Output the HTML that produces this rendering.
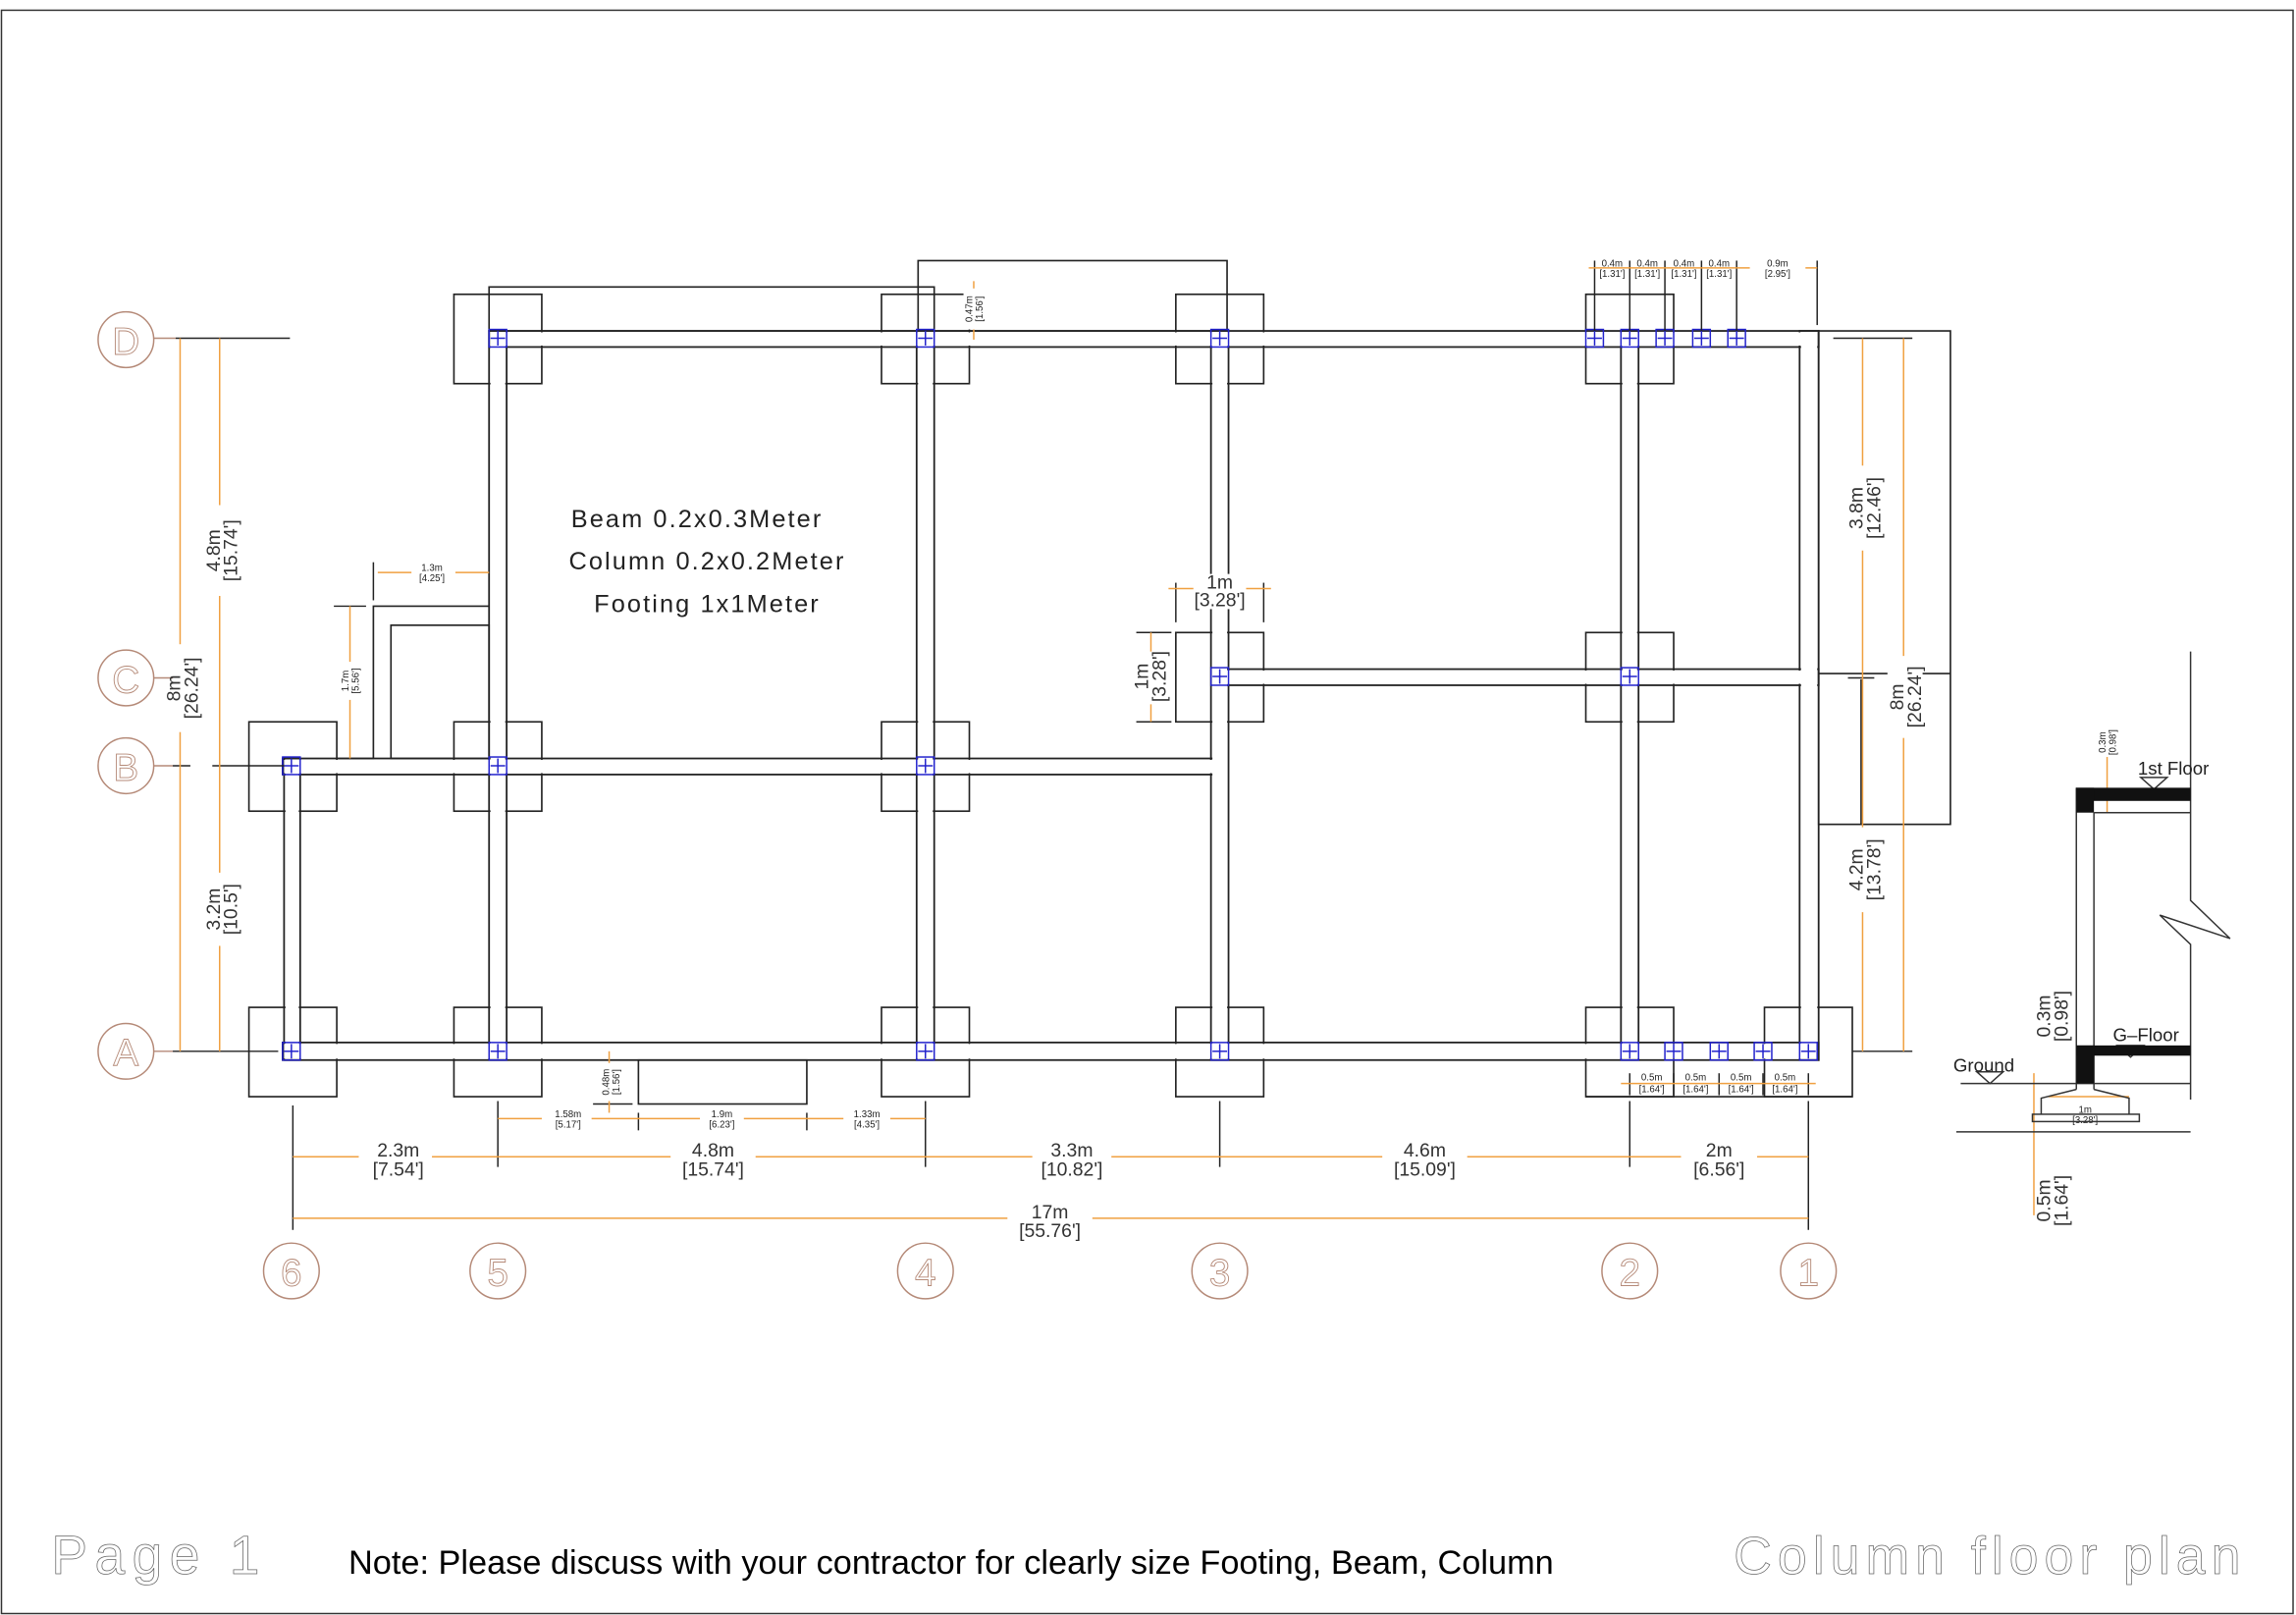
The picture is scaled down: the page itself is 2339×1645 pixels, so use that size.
<!DOCTYPE html>
<html><head><meta charset="utf-8"><style>
html,body{margin:0;padding:0;background:#fff;}
svg{display:block;}
text{font-family:"Liberation Sans",sans-serif;}
</style></head><body>
<svg width="2339" height="1645" viewBox="0 0 1568 1103" preserveAspectRatio="none" xmlns="http://www.w3.org/2000/svg">
<defs>
<g id="c"><rect x="-6" y="-6" width="12" height="12"/><line x1="-5" y1="0" x2="5" y2="0"/><line x1="0" y1="-5" x2="0" y2="5"/></g>
</defs>
<rect x="0" y="0" width="1568" height="1103" fill="#fff"/>
<rect x="1" y="7" width="1565" height="1095" fill="none" stroke="#333" stroke-width="1"/>

<g fill="none" stroke="#222" stroke-width="1.1">
<rect x="310" y="201" width="60" height="61"/>
<rect x="602" y="201" width="60" height="61"/>
<rect x="803" y="201" width="60" height="61"/>
<rect x="1083" y="201" width="60" height="61"/>
<rect x="803" y="432" width="60" height="61"/>
<rect x="1083" y="432" width="60" height="61"/>
<rect x="170" y="493" width="60" height="61"/>
<rect x="310" y="493" width="60" height="61"/>
<rect x="602" y="493" width="60" height="61"/>
<rect x="170" y="688" width="60" height="61"/>
<rect x="310" y="688" width="60" height="61"/>
<rect x="602" y="688" width="60" height="61"/>
<rect x="803" y="688" width="60" height="61"/>
<rect x="1083" y="688" width="60" height="61"/>
<rect x="1205" y="688" width="60" height="61"/>
<line x1="1083" y1="749" x2="1265" y2="749"/>
<rect x="334" y="196" width="304" height="30"/>
<rect x="627" y="178" width="211" height="48"/>
<rect x="1242" y="226" width="90" height="337"/>
<line x1="1242" y1="460" x2="1332" y2="460"/>
<line x1="1271" y1="464" x2="1271" y2="563"/>
<rect x="436" y="724" width="115" height="30"/>
<polyline points="230,518 255,518 255,414 334,414"/>
<rect x="267" y="427" width="67" height="91"/>
</g>

<g fill="none" stroke="#222" stroke-width="1.2">
<rect x="334" y="226" width="908" height="11"/>
<rect x="193" y="712" width="1049" height="12"/>
<rect x="193" y="518" width="640" height="11"/>
<rect x="833" y="457" width="409" height="11"/>
<rect x="194" y="518" width="11" height="206"/>
<rect x="334" y="226" width="12" height="498"/>
<rect x="626" y="226" width="12" height="498"/>
<rect x="827" y="226" width="12" height="498"/>
<rect x="1107" y="226" width="12" height="498"/>
<rect x="1229" y="226" width="13" height="498"/>
</g>
<g fill="#fff" stroke="none">
<rect x="335" y="227" width="906" height="9"/>
<rect x="194" y="713" width="1047" height="10"/>
<rect x="194" y="519" width="638" height="9"/>
<rect x="834" y="458" width="407" height="9"/>
<rect x="195" y="519" width="9" height="204"/>
<rect x="335" y="227" width="10" height="496"/>
<rect x="627" y="227" width="10" height="496"/>
<rect x="828" y="227" width="10" height="496"/>
<rect x="1108" y="227" width="10" height="496"/>
<rect x="1230" y="227" width="11" height="496"/>
</g>

<g fill="none" stroke="#2222cc" stroke-width="1">
<use href="#c" x="340" y="231"/><use href="#c" x="632" y="231"/><use href="#c" x="833" y="231"/>
<use href="#c" x="1089" y="231"/><use href="#c" x="1113" y="231"/><use href="#c" x="1137" y="231"/><use href="#c" x="1162" y="231"/><use href="#c" x="1186" y="231"/>
<use href="#c" x="833" y="462"/><use href="#c" x="1113" y="462"/>
<use href="#c" x="199" y="523"/><use href="#c" x="340" y="523"/><use href="#c" x="632" y="523"/>
<use href="#c" x="199" y="718"/><use href="#c" x="340" y="718"/><use href="#c" x="632" y="718"/><use href="#c" x="833" y="718"/>
<use href="#c" x="1113" y="718"/><use href="#c" x="1143" y="718"/><use href="#c" x="1174" y="718"/><use href="#c" x="1204" y="718"/><use href="#c" x="1235" y="718"/>
</g>

<g stroke="#222" stroke-width="1">
<line x1="120" y1="231" x2="198" y2="231"/>
<line x1="145" y1="523" x2="194" y2="523"/>
<line x1="118" y1="718" x2="190" y2="718"/>
<line x1="118" y1="523" x2="130" y2="523"/>
<line x1="200" y1="755" x2="200" y2="840"/>
<line x1="340" y1="752" x2="340" y2="797"/>
<line x1="632" y1="752" x2="632" y2="797"/>
<line x1="833" y1="752" x2="833" y2="797"/>
<line x1="1113" y1="752" x2="1113" y2="797"/>
<line x1="1235" y1="752" x2="1235" y2="840"/>
<line x1="1265" y1="718" x2="1306" y2="718"/>
<line x1="1252" y1="231" x2="1306" y2="231"/>
<line x1="1262" y1="463" x2="1280" y2="463"/>
<line x1="1089" y1="178" x2="1089" y2="226"/><line x1="1113" y1="178" x2="1113" y2="226"/><line x1="1137" y1="178" x2="1137" y2="226"/><line x1="1162" y1="178" x2="1162" y2="226"/><line x1="1186" y1="178" x2="1186" y2="226"/><line x1="1241" y1="178" x2="1241" y2="222"/>
<line x1="1113" y1="733" x2="1113" y2="748"/><line x1="1143" y1="733" x2="1143" y2="748"/><line x1="1174" y1="733" x2="1174" y2="748"/><line x1="1204" y1="733" x2="1204" y2="748"/><line x1="1235" y1="733" x2="1235" y2="748"/>
<line x1="803" y1="398" x2="803" y2="425"/><line x1="863" y1="398" x2="863" y2="425"/>
<line x1="776" y1="432" x2="800" y2="432"/><line x1="776" y1="493" x2="800" y2="493"/>
<line x1="436" y1="760" x2="436" y2="772"/><line x1="551" y1="760" x2="551" y2="772"/>
<line x1="405" y1="754" x2="432" y2="754"/>
<line x1="228" y1="414" x2="250" y2="414"/>
<line x1="255" y1="384" x2="255" y2="410"/>
</g>

<g stroke="#f0a040" stroke-width="1" fill="none">
<line x1="123" y1="231" x2="123" y2="718"/>
<line x1="150" y1="231" x2="150" y2="718"/>
<line x1="200" y1="790" x2="1235" y2="790"/>
<line x1="200" y1="832" x2="1235" y2="832"/>
<line x1="340" y1="764" x2="632" y2="764"/>
<line x1="1272" y1="231" x2="1272" y2="718"/>
<line x1="1300" y1="231" x2="1300" y2="718"/>
<line x1="1085" y1="183" x2="1241" y2="183"/>
<line x1="1107" y1="740" x2="1240" y2="740"/>
<line x1="798" y1="402" x2="868" y2="402"/>
<line x1="786" y1="432" x2="786" y2="493"/>
<line x1="665" y1="192" x2="665" y2="232"/>
<line x1="416" y1="718" x2="416" y2="760"/>
<line x1="258" y1="391" x2="334" y2="391"/>
<line x1="239" y1="414" x2="239" y2="518"/>
<line x1="1439" y1="507" x2="1439" y2="555"/>
<line x1="1389" y1="733" x2="1389" y2="830"/>
<line x1="1399" y1="749" x2="1454" y2="749"/>
</g>
<g fill="#fff">
<rect x="112" y="440" width="24" height="60"/><rect x="139" y="345" width="24" height="62"/><rect x="139" y="596" width="24" height="50"/>
<rect x="1261" y="318" width="24" height="58"/><rect x="1261" y="565" width="24" height="58"/><rect x="1289" y="448" width="24" height="56"/>
<rect x="245" y="778" width="50" height="26"/><rect x="458" y="778" width="58" height="26"/><rect x="705" y="778" width="54" height="26"/><rect x="944" y="778" width="58" height="26"/><rect x="1148" y="778" width="52" height="26"/><rect x="688" y="820" width="58" height="26"/>
<rect x="370" y="756" width="34" height="16"/><rect x="478" y="756" width="30" height="16"/><rect x="576" y="756" width="32" height="16"/>
<rect x="1195" y="176" width="38" height="15"/>
<rect x="281" y="385" width="30" height="14"/>
<rect x="230" y="452" width="18" height="26"/>
<rect x="774" y="445" width="24" height="36"/>
<rect x="658" y="197" width="16" height="28"/>
<rect x="409" y="726" width="16" height="26"/>
<rect x="1432" y="495" width="16" height="22"/>
<rect x="815" y="392" width="36" height="24"/>
</g>

<g fill="none" stroke="#b58a78" stroke-width="1">
<circle cx="86" cy="232" r="19"/><circle cx="86" cy="463" r="19"/><circle cx="86" cy="523" r="19"/><circle cx="86" cy="718" r="19"/>
<circle cx="199" cy="868" r="19"/><circle cx="340" cy="868" r="19"/><circle cx="632" cy="868" r="19"/><circle cx="833" cy="868" r="19"/><circle cx="1113" cy="868" r="19"/><circle cx="1235" cy="868" r="19"/>
<line x1="105" y1="231" x2="120" y2="231"/><line x1="105" y1="463" x2="118" y2="463"/><line x1="105" y1="523" x2="118" y2="523"/><line x1="105" y1="718" x2="118" y2="718"/>
</g>
<g fill="none" stroke="#b58a78" stroke-width="0.6" font-size="26" text-anchor="middle">
<text x="86" y="242">D</text><text x="86" y="473">C</text><text x="86" y="533">B</text><text x="86" y="728">A</text>
<text x="199" y="878">6</text><text x="340" y="878">5</text><text x="632" y="878">4</text><text x="833" y="878">3</text><text x="1113" y="878">2</text><text x="1235" y="878">1</text>
</g>

<g fill="#333" font-size="13" text-anchor="middle">
<text x="272" y="790">2.3m</text><text x="272" y="803">[7.54']</text>
<text x="487" y="790">4.8m</text><text x="487" y="803">[15.74']</text>
<text x="732" y="790">3.3m</text><text x="732" y="803">[10.82']</text>
<text x="973" y="790">4.6m</text><text x="973" y="803">[15.09']</text>
<text x="1174" y="790">2m</text><text x="1174" y="803">[6.56']</text>
<text x="717" y="832">17m</text><text x="717" y="845">[55.76']</text>
<text x="833" y="402">1m</text><text x="833" y="414">[3.28']</text>
<text transform="translate(123,470) rotate(-90)">8m</text><text transform="translate(135,470) rotate(-90)">[26.24']</text>
<text transform="translate(150,376) rotate(-90)">4.8m</text><text transform="translate(162,376) rotate(-90)">[15.74']</text>
<text transform="translate(150,621) rotate(-90)">3.2m</text><text transform="translate(162,621) rotate(-90)">[10.5']</text>
<text transform="translate(1272,347) rotate(-90)">3.8m</text><text transform="translate(1284,347) rotate(-90)">[12.46']</text>
<text transform="translate(1272,594) rotate(-90)">4.2m</text><text transform="translate(1284,594) rotate(-90)">[13.78']</text>
<text transform="translate(1300,476) rotate(-90)">8m</text><text transform="translate(1312,476) rotate(-90)">[26.24']</text>
<text transform="translate(784,462) rotate(-90)">1m</text><text transform="translate(796,462) rotate(-90)">[3.28']</text>
<text transform="translate(1400,694) rotate(-90)">0.3m</text><text transform="translate(1412,694) rotate(-90)">[0.98']</text>
<text transform="translate(1400,820) rotate(-90)">0.5m</text><text transform="translate(1412,820) rotate(-90)">[1.64']</text>
</g>
<g fill="#222" font-size="6.5" text-anchor="middle">
<text x="1101" y="182">0.4m</text><text x="1101" y="189">[1.31']</text>
<text x="1125" y="182">0.4m</text><text x="1125" y="189">[1.31']</text>
<text x="1150" y="182">0.4m</text><text x="1150" y="189">[1.31']</text>
<text x="1174" y="182">0.4m</text><text x="1174" y="189">[1.31']</text>
<text x="1214" y="182">0.9m</text><text x="1214" y="189">[2.95']</text>
<text x="1128" y="738">0.5m</text><text x="1128" y="746">[1.64']</text>
<text x="1158" y="738">0.5m</text><text x="1158" y="746">[1.64']</text>
<text x="1189" y="738">0.5m</text><text x="1189" y="746">[1.64']</text>
<text x="1219" y="738">0.5m</text><text x="1219" y="746">[1.64']</text>
<text x="388" y="763">1.58m</text><text x="388" y="770">[5.17']</text>
<text x="493" y="763">1.9m</text><text x="493" y="770">[6.23']</text>
<text x="592" y="763">1.33m</text><text x="592" y="770">[4.35']</text>
<text x="295" y="390">1.3m</text><text x="295" y="397">[4.25']</text>
<text x="1424" y="760">1m</text><text x="1424" y="767">[3.28']</text>
<text transform="translate(238,465) rotate(-90)">1.7m</text><text transform="translate(245,465) rotate(-90)">[5.56']</text>
<text transform="translate(664,211) rotate(-90)">0.47m</text><text transform="translate(671,211) rotate(-90)">[1.56']</text>
<text transform="translate(416,739) rotate(-90)">0.48m</text><text transform="translate(423,739) rotate(-90)">[1.56']</text>
<text transform="translate(1438,507) rotate(-90)">0.3m</text><text transform="translate(1445,507) rotate(-90)">[0.98']</text>
</g>

<g fill="#222" font-size="17" text-anchor="middle" letter-spacing="1.4">
<text x="476" y="360">Beam  0.2x0.3Meter</text>
<text x="483" y="389">Column  0.2x0.2Meter</text>
<text x="483" y="418">Footing  1x1Meter</text>
</g>

<g fill="none" stroke="#333" stroke-width="1">
<polyline points="1496,445 1496,615 1523,641 1475,625 1496,645 1496,751"/>
<line x1="1418" y1="538" x2="1418" y2="744"/>
<line x1="1430" y1="555" x2="1430" y2="744"/>
<line x1="1430" y1="555" x2="1496" y2="555"/>
<line x1="1339" y1="740" x2="1496" y2="740"/>
<polyline points="1418,744 1394,750 1394,761"/>
<polyline points="1430,744 1454,750 1454,761"/>
<rect x="1388" y="761" width="73" height="5"/>
<line x1="1336" y1="773" x2="1496" y2="773"/>
<polygon points="1462,531 1480,531 1471,539"/>
<polygon points="1446,714 1464,714 1455,722"/>
<polygon points="1350,732 1368,732 1359,740"/>
</g>
<g fill="#111">
<rect x="1418" y="538" width="78" height="9"/>
<rect x="1418" y="538" width="12" height="17"/>
<rect x="1418" y="714" width="78" height="7"/>
<rect x="1418" y="714" width="12" height="26"/>
</g>
<g fill="#222" font-size="12.5">
<text x="1460" y="529">1st Floor</text>
<text x="1443" y="711">G–Floor</text>
<text x="1334" y="732">Ground</text>
</g>

<text x="35" y="1075" font-size="37" fill="none" stroke="#666" stroke-width="0.5" letter-spacing="5">Page 1</text>
<text x="238" y="1075" font-size="23" fill="#000">Note: Please discuss with your contractor for clearly size Footing, Beam, Column</text>
<text x="1184" y="1075" font-size="36" fill="none" stroke="#666" stroke-width="0.5" letter-spacing="4">Column  floor  plan</text>
</svg>
</body></html>
